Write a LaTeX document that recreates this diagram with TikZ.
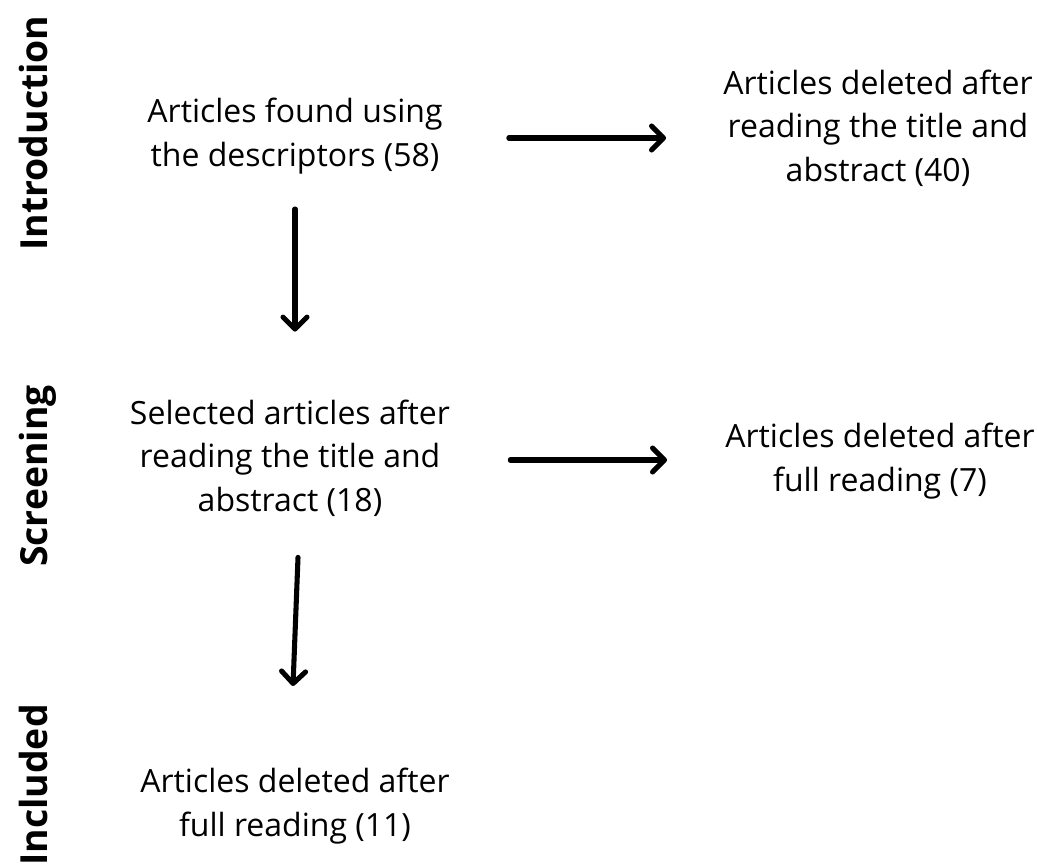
\documentclass[tikz,border=0pt]{standalone}
\usepackage{fontspec}
\setmainfont{Open Sans}
\usetikzlibrary{arrows.meta,calc}
\begin{document}
\begin{tikzpicture}[x=0.75pt,y=-0.75pt,
  txt/.style={align=center,inner sep=0pt,font=\fontsize{24}{32.5}\selectfont},
  side/.style={rotate=90,anchor=base,inner sep=0pt,font=\fontsize{28}{30}\selectfont\bfseries},
  arr/.style={line width=3.8pt,line cap=round,-{Straight Barb[length=9pt,width=18pt,line join=round,line cap=round]}}]
\useasboundingbox (0,0) rectangle (1038,864);
\node[side] (s1) at (47,133) {Introduction};
\node[side] (s2) at (47,476) {Screening};
\node[side] (s3) at (47,785) {Included};
\node[txt] (A) at (295,136) {Articles found using\\the descriptors (58)};
\node[txt] (B) at (878,128) {Articles deleted after\\reading the title and\\abstract (40)};
\node[txt] (C) at (290,458) {Selected articles after\\reading the title and\\abstract (18)};
\node[txt] (D) at (880,461) {Articles deleted after\\full reading (7)};
\node[txt] (E) at (295,806) {Articles deleted after\\full reading (11)};
\draw[arr] ($(A.east)+(66,2)$) -- ($(A.east -| B.west)+(-57,2)$);
\draw[arr] ($(A.south)+(0,35)$) -- ($(A.south |- C.north)+(0,-68)$);
\draw[arr] ($(C.east)+(60,2)$) -- ($(C.east -| D.west)+(-58,2)$);
\draw[arr] ($(C.south)+(8,41)$) -- ($(E.north)+(-2,-82)$);
\end{tikzpicture}
\end{document}
